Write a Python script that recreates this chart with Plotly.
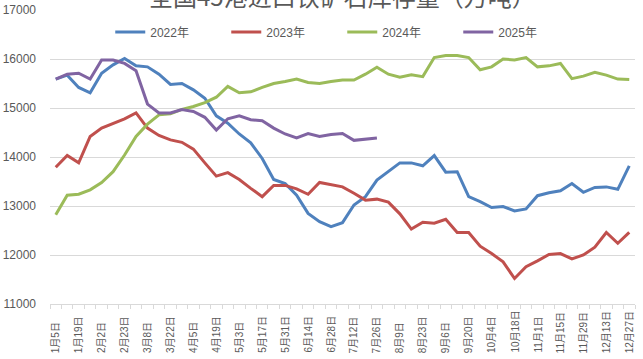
import plotly.graph_objects as go

categories = ["1月5日","1月12日","1月19日","1月26日","2月2日","2月9日","2月23日","3月1日","3月8日","3月15日",
              "3月22日","3月29日","4月5日","4月12日","4月19日","4月26日","5月3日","5月10日","5月17日","5月24日",
              "5月31日","6月7日","6月14日","6月21日","6月28日","7月5日","7月12日","7月19日","7月26日","8月2日",
              "8月9日","8月16日","8月23日","8月30日","9月6日","9月13日","9月20日","9月27日","10月4日","10月11日",
              "10月18日","10月25日","11月1日","11月8日","11月15日","11月22日","11月29日","12月6日","12月13日","12月20日",
              "12月27日"]

y2022 = [15590,15670,15420,15310,15710,15880,16010,15860,15840,15690,
         15480,15500,15370,15200,14840,14690,14470,14290,13970,13540,13460,
         13220,12850,12680,12580,12660,13020,13190,13530,13710,13880,
         13880,13820,14030,13690,13700,13190,13090,12970,12990,12900,
         12940,13210,13270,13310,13460,13280,13380,13390,13340,13820]
y2023 = [13790,14030,13880,14420,14590,14690,14780,14900,14590,14440,
         14350,14300,14160,13880,13610,13680,13540,13360,13190,13420,13420,
         13350,13240,13480,13440,13390,13260,13120,13140,13080,12840,
         12530,12670,12650,12730,12460,12460,12180,12030,11860,11520,
         11760,11880,12010,12030,11920,12000,12160,12460,12240,12460]
y2024 = [12820,13220,13240,13330,13480,13700,14040,14420,14670,14860,
         14880,14970,15030,15110,15220,15440,15310,15330,15420,15500,15540,
         15590,15520,15500,15540,15570,15570,15690,15830,15690,15630,
         15680,15640,16030,16070,16070,16030,15780,15840,16000,15980,
         16030,15840,15860,15910,15600,15650,15730,15670,15590,15580]
y2025 = [15590,15690,15710,15590,15980,15980,15910,15760,15080,14900,
         14900,14970,14930,14810,14550,14780,14840,14760,14740,14590,
         14470,14390,14480,14420,14460,14480,14340,14370,14390]

series = [("2022年", y2022, "#4F81BD"),
          ("2023年", y2023, "#C0504D"),
          ("2024年", y2024, "#9BBB59"),
          ("2025年", y2025, "#8064A2")]

title_text = "全国45港进口铁矿石库存量（万吨）"
y_ticks = [11000, 12000, 13000, 14000, 15000, 16000, 17000]

FONT = "Liberation Sans, Noto Sans CJK SC, sans-serif"
TXT = "#595959"

fig = go.Figure()
for name, vals, col in series:
    fig.add_trace(go.Scatter(x=list(range(len(vals))), y=vals, mode="lines", name=name,
                             line=dict(color=col, width=3)))

annotations = [dict(text=title_text, xref="paper", yref="paper", x=0.5, y=1 + 15 / 294,
                    xanchor="center", yanchor="middle", showarrow=False,
                    font=dict(size=24, color=TXT, family="Noto Sans CJK SC"))]
# bottom-aligned rotated category labels (every second category)
for i in range(0, len(categories), 2):
    annotations.append(dict(text=categories[i], x=i, xref="x", yref="paper", y=-51 / 294,
                            xanchor="center", yanchor="bottom", textangle=-90, showarrow=False,
                            font=dict(size=10, color=TXT, family=FONT)))

fig.update_layout(
    width=643, height=359,
    margin=dict(l=50, r=8, t=10, b=55),
    paper_bgcolor="white", plot_bgcolor="white",
    font=dict(family=FONT, size=11, color=TXT),
    legend=dict(orientation="h", x=0.103, y=0.925, xanchor="left", yanchor="middle",
                entrywidth=71, entrywidthmode="pixels", font=dict(size=12, color=TXT),
                bgcolor="rgba(0,0,0,0)", itemwidth=30),
    showlegend=True,
    annotations=annotations,
)
fig.update_xaxes(
    range=[-0.5, len(categories) - 0.5], automargin=False,
    showticklabels=False, ticks="", showgrid=False,
    showline=True, linecolor="#D9D9D9", linewidth=1,
    minor=dict(ticks="outside", tick0=0.5, dtick=1, ticklen=4, tickcolor="#D9D9D9", showgrid=False),
    zeroline=False,
)
fig.update_yaxes(
    range=[11000, 17000], tickmode="array", tickvals=y_ticks,
    ticktext=[str(v) for v in y_ticks], automargin=False,
    showgrid=True, gridcolor="#D9D9D9", gridwidth=1, zeroline=False,
    tickfont=dict(size=12, color=TXT, family=FONT), ticks="", ticklabelstandoff=13,
)
fig.write_html("out.html", config={"displayModeBar": False},
               post_script="document.body.style.margin='0';document.body.style.overflow='hidden';")
